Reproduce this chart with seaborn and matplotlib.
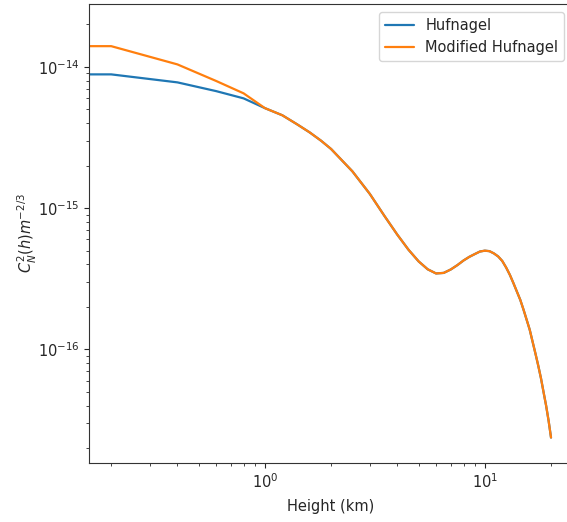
import numpy as np
import pandas as pd
import matplotlib
matplotlib.use("Agg")
import matplotlib.pyplot as plt
import seaborn as sns

# Heights (km) for the low-altitude part where the two models differ
heights_low = [0.0, 0.2, 0.4, 0.6, 0.8]
hufnagel_low = [8.84e-15, 8.84e-15, 7.76e-15, 6.73e-15, 5.98e-15]
modified_low = [1.40e-14, 1.40e-14, 1.04e-14, 7.94e-15, 6.49e-15]

# Heights (km) where both models coincide
heights_common = [1.0, 1.2, 1.4, 1.6, 1.8, 2.0, 2.5, 3.0, 3.5,
                  4.0, 4.5, 5.0, 5.5, 6.0, 6.5, 7.0, 7.5, 8.0, 8.5, 9.0, 9.5,
                  10.0, 10.5, 11.0, 11.5, 12.0, 12.5, 13.0, 13.5, 14.0, 14.5,
                  15.0, 15.5, 16.0, 16.5, 17.0, 17.5, 18.0, 18.5, 19.0, 19.5,
                  20.0]
cn2_common = [5.10e-15, 4.54e-15, 3.92e-15, 3.43e-15, 3.00e-15, 2.62e-15,
              1.82e-15, 1.26e-15, 8.78e-16,
              6.49e-16, 5.07e-16, 4.20e-16, 3.69e-16, 3.45e-16, 3.48e-16,
              3.68e-16, 3.95e-16, 4.26e-16, 4.52e-16, 4.73e-16, 4.93e-16,
              5.00e-16, 4.96e-16, 4.78e-16, 4.55e-16, 4.23e-16, 3.80e-16,
              3.37e-16, 2.94e-16, 2.56e-16, 2.24e-16, 1.91e-16, 1.62e-16,
              1.38e-16, 1.13e-16, 9.32e-17, 7.67e-17, 6.26e-17, 4.98e-17,
              4.00e-17, 3.13e-17, 2.38e-17]

series_names = ["Hufnagel", "Modified Hufnagel"]

heights = heights_low + heights_common
hufnagel = hufnagel_low + cn2_common
modified = modified_low + cn2_common

df = pd.DataFrame({
    "h": heights + heights,
    "cn2": hufnagel + modified,
    "model": [series_names[0]] * len(heights) + [series_names[1]] * len(heights),
})

sns.set_style("ticks")
plt.rcParams["font.family"] = ["DejaVu Sans"]

fig = plt.figure(figsize=(5.67, 5.22), dpi=100)
ax = fig.add_axes([89 / 567, (522 - 462.5) / 522, 484 / 567, 459 / 522])

sns.lineplot(data=df, x="h", y="cn2", hue="model", hue_order=series_names,
             palette=["#1f77b4", "#ff7f0e"], estimator=None, sort=False,
             linewidth=1.6, ax=ax)

ax.set_xscale("log")
ax.set_yscale("log")
ax.set_xlim(10 ** -0.8, 10 ** 1.401)
ax.set_ylim(10 ** -16.80, 10 ** -13.552)

ax.set_xlabel("Height (km)", fontsize=10.5, labelpad=6)
ax.set_ylabel(r"$C_N^2(h)m^{-2/3}$", fontsize=10.5, labelpad=-1)
ax.tick_params(labelsize=10.5)

handles, labels = ax.get_legend_handles_labels()
ax.legend(handles, labels, loc="upper right", fontsize=10.5, frameon=True,
          borderaxespad=0.6)

for s in ax.spines.values():
    s.set_color("#333333")
ax.spines["right"].set_visible(False)

fig.savefig("out.png", dpi=100)
